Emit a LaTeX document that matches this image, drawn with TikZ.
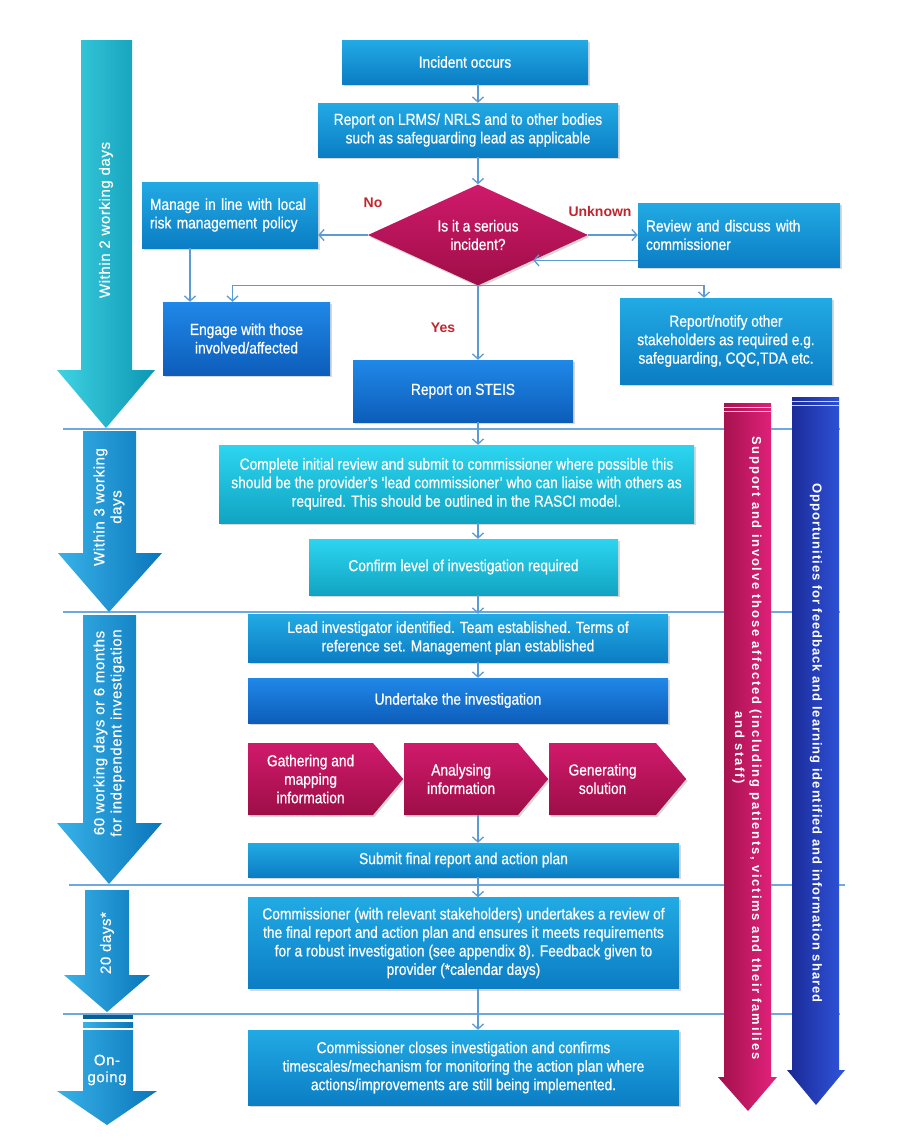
\documentclass[tikz,border=0pt]{standalone}
\usepackage{fontspec}
\setmainfont{Liberation Sans}
\newfontfamily\boxfont[FakeStretch=0.86, FakeBold=0.7]{Liberation Sans}
\newfontfamily\sidefont[LetterSpace=4, FakeBold=0.5]{Liberation Sans}
\newfontfamily\magfont[LetterSpace=13.5]{Liberation Sans}
\newfontfamily\navfont[LetterSpace=7.5]{Liberation Sans}
\usetikzlibrary{arrows.meta,shapes.geometric,shapes.symbols,shadows}
\definecolor{bluet}{HTML}{22AAE4}
\definecolor{blueb}{HTML}{0B7DC4}
\definecolor{dbluet}{HTML}{2088E8}
\definecolor{dblueb}{HTML}{0D5DBA}
\definecolor{cyant}{HTML}{2DD5F0}
\definecolor{cyanbot}{HTML}{10A4C2}
\definecolor{magt}{HTML}{D01A6B}
\definecolor{magb}{HTML}{9E0E47}
\definecolor{connc}{HTML}{5B9BD5}
\definecolor{sepc}{HTML}{6FA8DC}
\definecolor{labred}{HTML}{C0262D}
\definecolor{tealL}{HTML}{3FD2E4}
\definecolor{tealR}{HTML}{0C97B3}
\definecolor{arrL}{HTML}{38B2E8}
\definecolor{arrR}{HTML}{0A76BB}
\definecolor{magbarL}{HTML}{A0104A}
\definecolor{magbarR}{HTML}{E6237E}
\definecolor{navyL}{HTML}{1A2894}
\definecolor{navyR}{HTML}{2F55DC}
\tikzset{
  conn/.style={draw=connc, line width=1.3pt, -{Straight Barb[length=5pt,width=11pt]}},
  sepline/.style={draw=sepc, line width=1.5pt},
  bx/.style={rectangle, inner sep=3pt, align=center, text=white,
    font=\boxfont\fontsize{16}{18.5}\selectfont,
    drop shadow={opacity=0.3, shadow xshift=1.5pt, shadow yshift=-2pt}},
  boxblue/.style={bx, top color=bluet, bottom color=blueb},
  boxdark/.style={bx, top color=dbluet, bottom color=dblueb},
  boxcyan/.style={bx, top color=cyant, bottom color=cyanbot},
  boxmag/.style={bx, top color=magt, bottom color=magb},
  lab/.style={text=labred, font=\fontsize{14}{16}\selectfont\bfseries},
  sidetxt/.style={text=white, align=center, font=\sidefont\fontsize{15}{17}\selectfont},
  arrteal/.style={left color=tealL, right color=tealR},
  arrblue/.style={left color=arrL, right color=arrR},
  chev/.style={boxmag, signal, signal to=east, signal pointer angle=100, inner sep=0pt, minimum height=72pt, anchor=west}
}
\begin{document}
\begin{tikzpicture}[x=1pt,y=-1pt]
\useasboundingbox (0,0) rectangle (901,1141);
\fill[white] (0,0) rectangle (901,1141);

% separator lines
\coordinate (s1a) at (63,429);  \coordinate (s1b) at (840,429);
\coordinate (s2a) at (63,612);  \coordinate (s2b) at (840,612);
\coordinate (s3a) at (69,885);  \coordinate (s3b) at (845,885);
\coordinate (s4a) at (63,1014); \coordinate (s4b) at (840,1014);
\draw[sepline] (s1a) -- (s1b);
\draw[sepline] (s2a) -- (s2b);
\draw[sepline] (s3a) -- (s3b);
\draw[sepline] (s4a) -- (s4b);

% left time arrows
\path[arrteal] (81,40) -- (132,40) -- (132,370) -- (155,370) -- (106,428) -- (57,370) -- (81,370) -- cycle;
\path[arrblue] (83,431) -- (136,431) -- (136,553) -- (162,553) -- (109,612) -- (58,553) -- (83,553) -- cycle;
\path[arrblue] (83,615) -- (136,615) -- (136,823) -- (162,823) -- (109,884) -- (57,823) -- (83,823) -- cycle;
\path[arrblue] (85,890) -- (129,890) -- (129,975) -- (150,975) -- (107,1012) -- (64,975) -- (85,975) -- cycle;
\fill[arrR!80!black] (83,1015) rectangle (133,1019);
\path[arrblue] (83,1022) rectangle (133,1027);
\path[arrblue] (83,1030) -- (133,1030) -- (133,1091) -- (157,1091) -- (107,1125) -- (57,1091) -- (83,1091) -- cycle;

\node[sidetxt, rotate=90] (t1) at (106,220) {Within 2 working days};
\node[sidetxt, rotate=90] (t2) at (109,507) {Within 3 working\\days};
\node[sidetxt, rotate=90] (t3) at (109,733) {60 working days or 6 months\\for independent investigation};
\node[sidetxt, rotate=90] (t4) at (107,943) {20 days*};
\node[sidetxt] (t5) at (107,1070) {On-\\going};

% right bars
\path[left color=magbarL, right color=magbarR] (724,403) -- (771,403) -- (771,1077) -- (777,1077) -- (748,1111) -- (718,1077) -- (724,1077) -- cycle;
\draw[white!80!magt, line width=1pt] (724,407) -- (771,407) (724,411) -- (771,411);
\path[left color=navyL, right color=navyR] (792,397) -- (839,397) -- (839,1070) -- (845,1070) -- (816,1105) -- (787,1070) -- (792,1070) -- cycle;
\draw[white!80!navyL, line width=1pt] (792,401) -- (839,401) (792,405) -- (839,405);
\node[text=white, align=center, rotate=-90, font=\magfont\fontsize{13}{17}\selectfont\bfseries] (mt) at (747,748)
  {Support and involve those affected (including patients, victims and their families\\and staff)};
\node[text=white, rotate=-90, font=\navfont\fontsize{13}{17}\selectfont\bfseries] (nt) at (816,743)
  {Opportunities for feedback and learning identified and information shared};

% flow boxes
\node[boxblue, minimum width=246pt, minimum height=44pt] (inc) at (465,62) {Incident occurs};
\node[boxblue, minimum width=300pt, minimum height=54pt] (rpt) at (468,130)
  {Report on LRMS/ NRLS and to other bodies\\such as safeguarding lead as applicable};
\node[boxmag, diamond, shape aspect=2.2, minimum width=220pt, minimum height=101pt, inner sep=0pt] (dia) at (478,235)
  {Is it a serious\\incident?};
\node[boxblue, align=left, text width=160pt, inner xsep=8pt, minimum height=66pt] (man) at (230,215)
  {Manage in line with local\\risk management policy};
\node[boxdark, minimum width=167pt, minimum height=73pt] (eng) at (246.5,338.5)
  {Engage with those\\involved/affected};
\node[boxblue, align=left, text width=186pt, inner xsep=8pt, minimum height=64pt] (rev) at (739,235)
  {Review and discuss with\\commissioner};
\node[boxblue, minimum width=212pt, minimum height=86pt] (rep) at (726,341)
  {Report/notify other\\stakeholders as required e.g.\\safeguarding, CQC,TDA etc.};
\node[boxdark, minimum width=220pt, minimum height=62pt] (steis) at (463,391) {Report on STEIS};
\node[boxcyan, minimum width=475pt, minimum height=78pt] (cir) at (456.5,484)
  {Complete initial review and submit to commissioner where possible this\\should be the provider’s ‘lead commissioner’ who can liaise with others as\\required. This should be outlined in the RASCI model.};
\node[boxcyan, minimum width=309pt, minimum height=56pt] (clv) at (463.5,567) {Confirm level of investigation required};
\node[boxblue, minimum width=420pt, minimum height=48pt] (lead) at (458,638)
  {Lead investigator identified. Team established. Terms of\\reference set. Management plan established};
\node[boxdark, minimum width=420pt, minimum height=45pt] (und) at (458,700.5) {Undertake the investigation};
\node[chev, minimum width=155pt] (ch1) at (248,779) {Gathering and\\mapping\\information};
\node[chev, minimum width=144pt] (ch2) at (404,779) {Analysing\\information};
\node[chev, minimum width=137pt] (ch3) at (549,779) {Generating\\solution};
\node[boxblue, minimum width=431pt, minimum height=34pt] (sub) at (463.5,860) {Submit final report and action plan};
\node[boxblue, minimum width=431pt, minimum height=91pt] (crv) at (463.5,943)
  {Commissioner (with relevant stakeholders) undertakes a review of\\the final report and action plan and ensures it meets requirements\\for a robust investigation (see appendix 8). Feedback given to\\provider (*calendar days)};
\node[boxblue, minimum width=431pt, minimum height=75pt] (cls) at (463.5,1067.5)
  {Commissioner closes investigation and confirms\\timescales/mechanism for monitoring the action plan where\\actions/improvements are still being implemented.};

% labels
\node[lab] (lno) at (373,203) {No};
\node[lab] (lunk) at (600,211) {Unknown};
\node[lab] (lyes) at (443,328) {Yes};

% connectors
\draw[conn] (inc.south -| dia) -- (rpt.north -| dia);
\draw[conn] (rpt.south -| dia) -- (dia.north);
\draw[conn] (dia.west) -- (man.east |- dia.west);
\draw[conn] (dia.east) -- (rev.west |- dia.east);
\draw[conn] (rev.west |- dia.south east) -- (dia.south east);
\draw[conn] ([xshift=-40pt]man.south) -- ([xshift=-40pt]man.south |- eng.north);
\draw[conn] (dia.south) -| ([xshift=-14pt]eng.north);
\draw[conn] (dia.south) -| ([xshift=-22pt]rep.north);
\draw[conn] (dia.south) -- (dia.south |- steis.north);
\draw[conn] (steis.south -| dia) -- (cir.north -| dia);
\draw[conn] (cir.south -| dia) -- (clv.north -| dia);
\draw[conn] (clv.south -| dia) -- (lead.north -| dia);
\draw[conn] (lead.south -| dia) -- (und.north -| dia);
\draw[conn] (ch2.south -| dia) -- (sub.north -| dia);
\draw[conn] (sub.south -| dia) -- (crv.north -| dia);
\draw[conn] (crv.south -| dia) -- (cls.north -| dia);
\end{tikzpicture}
\end{document}
